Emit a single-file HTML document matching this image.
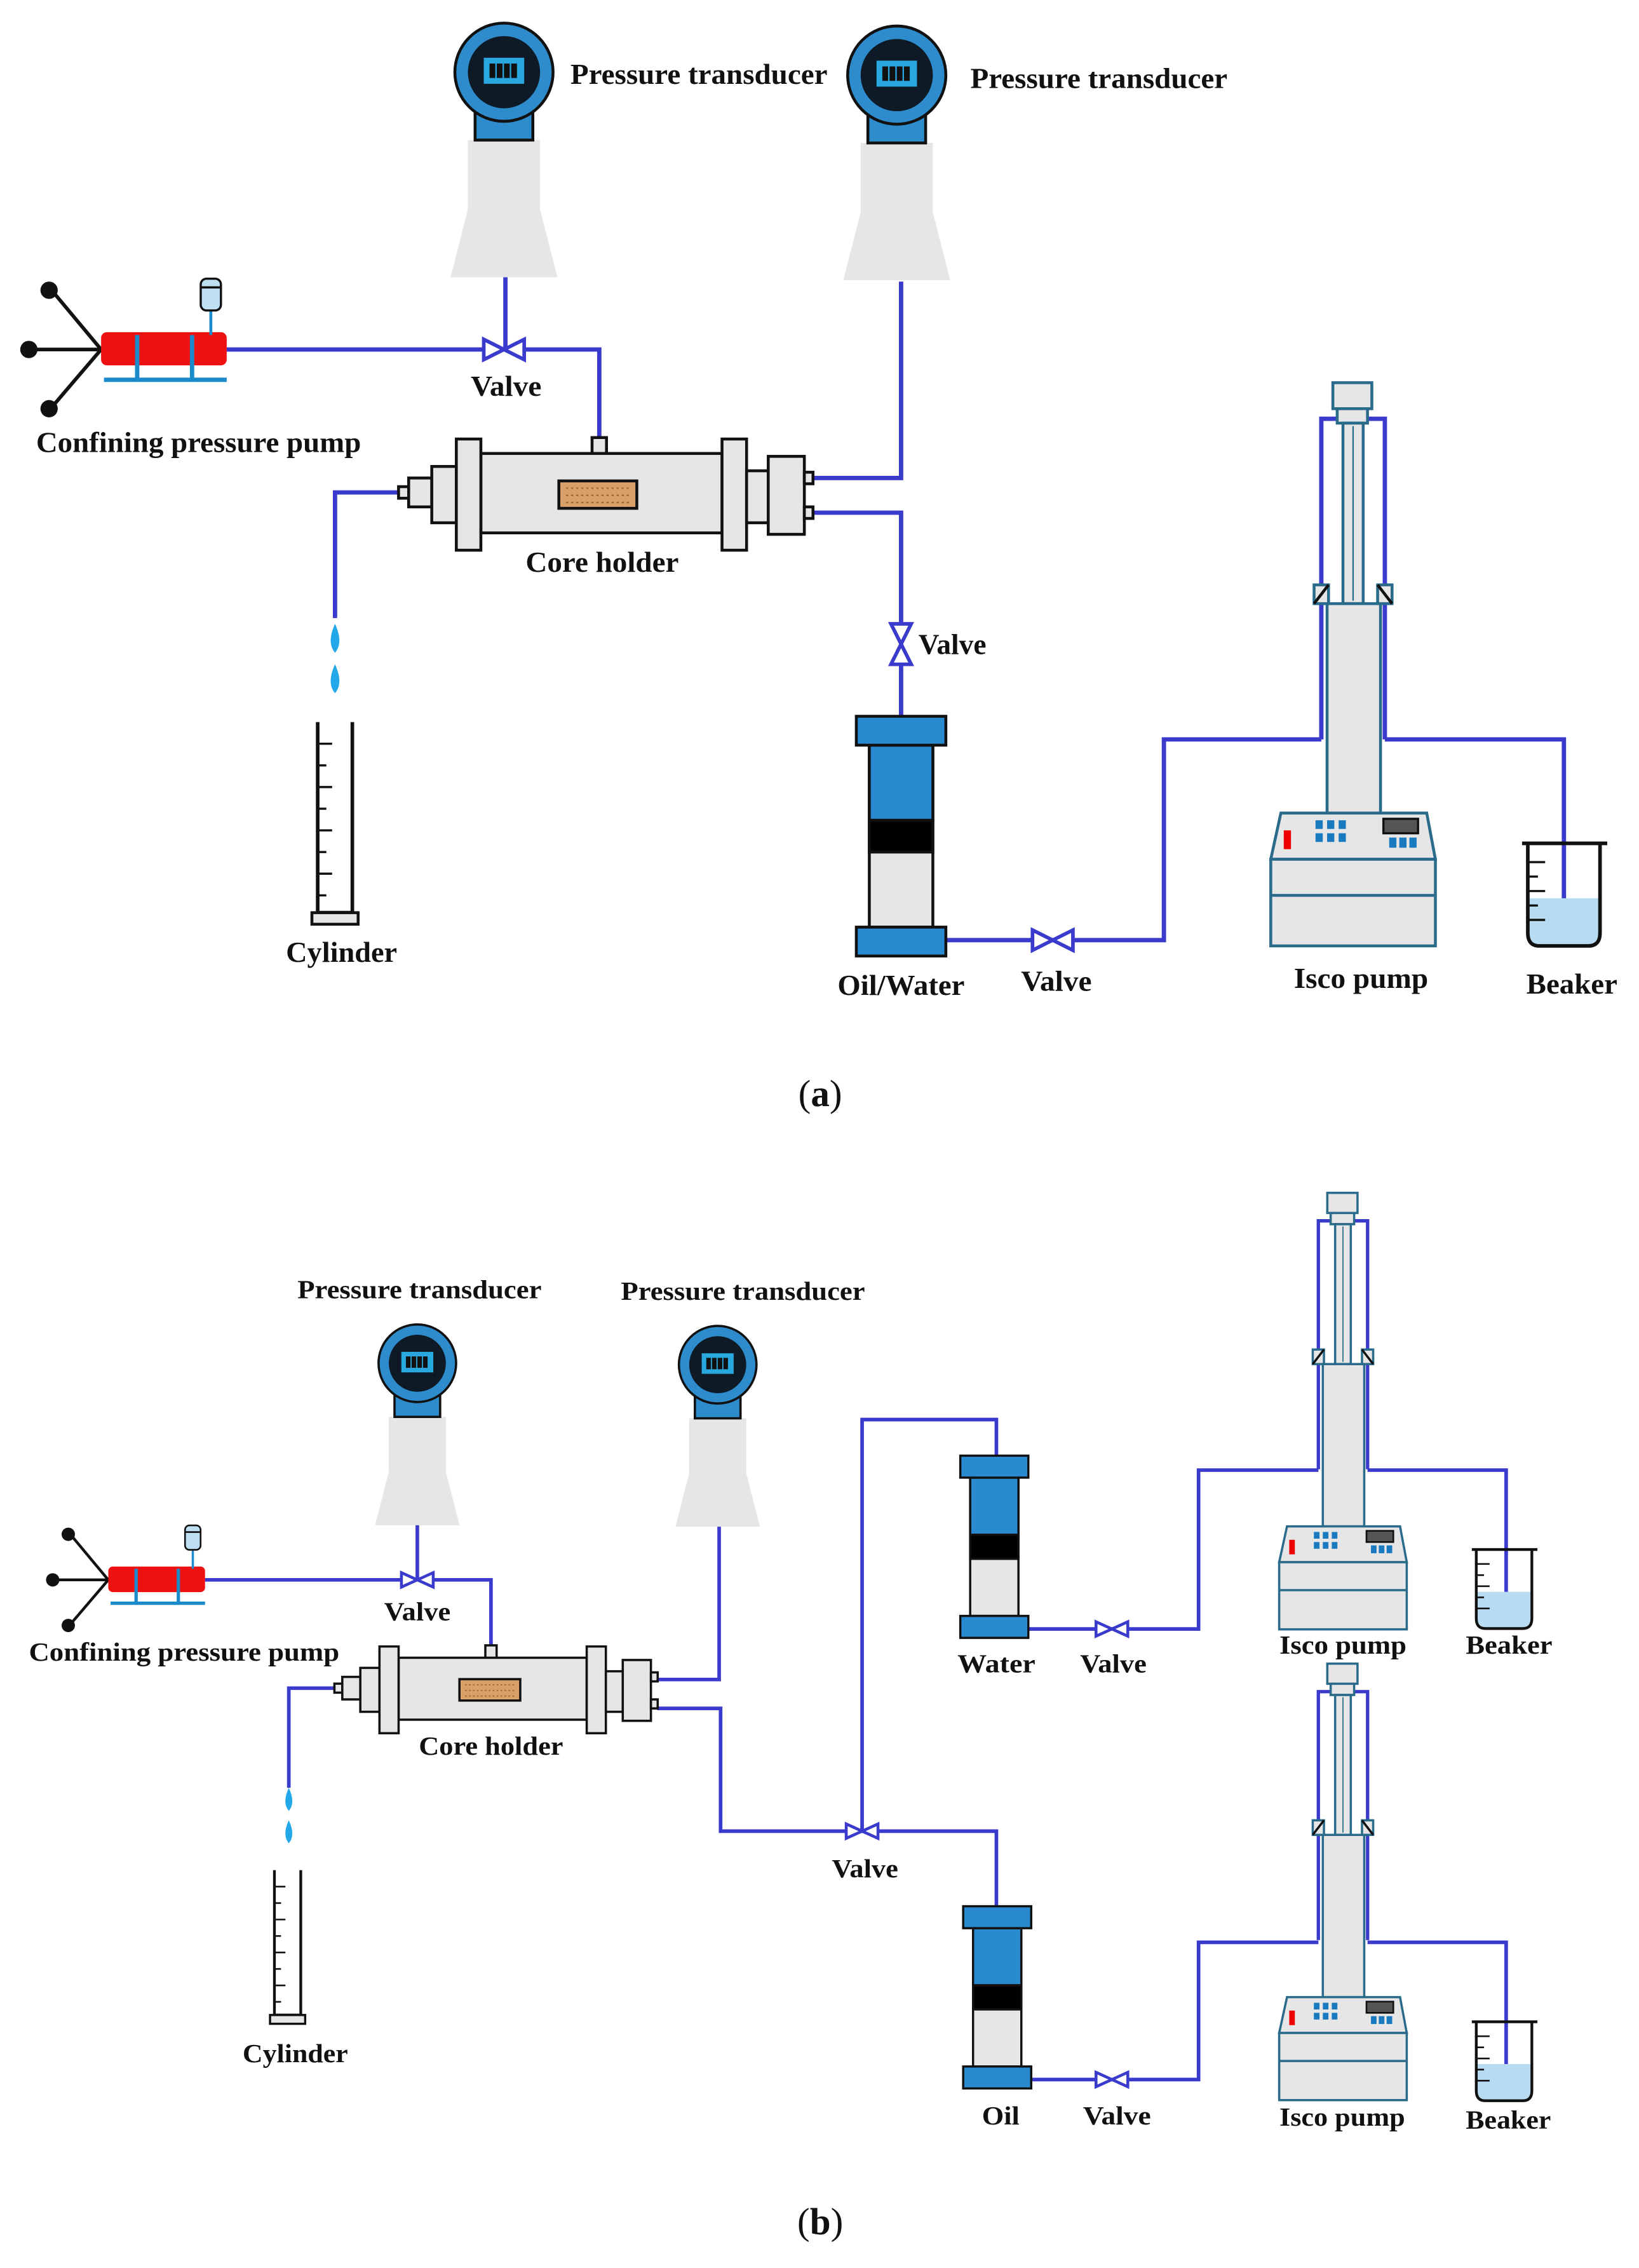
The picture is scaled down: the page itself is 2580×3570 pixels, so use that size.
<!DOCTYPE html>
<html><head><meta charset="utf-8"><style>
html,body{margin:0;padding:0;background:#fff}
svg{display:block}
text{font-family:"Liberation Serif",serif;font-weight:bold;fill:#111}
</style></head><body>
<svg width="2580" height="3570" viewBox="0 0 1135 1570.5" preserveAspectRatio="none" xmlns="http://www.w3.org/2000/svg">
<defs>
 <g id="trans">
  <path d="M-25,47 H25 V95 L37,142 H-37 L-25,95 Z" fill="#e6e6e6"/>
  <rect x="-20" y="26" width="40" height="21" fill="#2e8ccc" stroke="#111" stroke-width="2"/>
  <circle r="34" fill="#2e8ccc" stroke="#111" stroke-width="2"/>
  <circle r="25" fill="#0e1a26"/>
  <rect x="-14" y="-10" width="28" height="18" fill="#29a8e0"/>
  <g fill="#111"><rect x="-10" y="-6" width="4" height="10"/><rect x="-5" y="-6" width="4" height="10"/><rect x="0" y="-6" width="4" height="10"/><rect x="5" y="-6" width="4" height="10"/></g>
 </g>
 <g id="cpump">
  <g stroke="#111" stroke-width="2.5"><line x1="70" y1="242" x2="35" y2="200"/><line x1="70" y1="242" x2="20" y2="242"/><line x1="70" y1="242" x2="35" y2="283"/></g>
  <g fill="#111"><circle cx="34" cy="201" r="6"/><circle cx="20" cy="242" r="6"/><circle cx="34" cy="283" r="6"/></g>
  <rect x="70" y="230" width="87" height="23" rx="4" fill="#ee1111"/>
  <line x1="72" y1="263" x2="157" y2="263" stroke="#1a8acb" stroke-width="3"/>
  <line x1="95" y1="232" x2="95" y2="263" stroke="#1a8acb" stroke-width="3"/>
  <line x1="133" y1="232" x2="133" y2="263" stroke="#1a8acb" stroke-width="3"/>
  <line x1="146" y1="215" x2="146" y2="232" stroke="#1a8acb" stroke-width="2"/>
  <rect x="139" y="193" width="14" height="22" rx="4" fill="#bfe0f3" stroke="#111" stroke-width="1.5"/>
  <line x1="139" y1="199" x2="153" y2="199" stroke="#111" stroke-width="1.5"/>
 </g>
 <g id="core" stroke="#111" stroke-width="2" fill="#e6e6e6">
  <rect x="410" y="303" width="10" height="12"/>
  <rect x="276" y="337" width="7" height="8"/>
  <rect x="283" y="331" width="16" height="20"/>
  <rect x="299" y="323" width="17" height="39"/>
  <rect x="333" y="314" width="167" height="55"/>
  <rect x="316" y="304" width="17" height="77"/>
  <rect x="500" y="304" width="17" height="77"/>
  <rect x="517" y="326" width="15" height="36"/>
  <rect x="532" y="316" width="25" height="54"/>
  <rect x="557" y="327" width="6" height="8"/>
  <rect x="557" y="351" width="6" height="8"/>
  <rect x="387" y="333" width="54" height="19" fill="#d9a06a"/>
  <g stroke="#9a6a3a" stroke-width="1" stroke-dasharray="1.5 2"><line x1="392" y1="338" x2="437" y2="338"/><line x1="392" y1="343" x2="437" y2="343"/><line x1="392" y1="348" x2="437" y2="348"/></g>
 </g>
 <g id="piston" stroke="#111" stroke-width="2">
  <rect x="602" y="516" width="44" height="126" fill="#e6e6e6"/>
  <rect x="602" y="516" width="44" height="52" fill="#2a8ad0"/>
  <rect x="602" y="568" width="44" height="22" fill="#000"/>
  <rect x="593" y="496" width="62" height="20" fill="#2a8ad0"/>
  <rect x="593" y="642" width="62" height="20" fill="#2a8ad0"/>
 </g>
 <g id="isco">
  <g fill="none" stroke="#3a3acc" stroke-width="3"><path d="M915,512 V290 H926"/><path d="M959,512 V290 H947"/></g>
  <g fill="#e6e6e6" stroke="#2a6a8a" stroke-width="2">
   <rect x="923" y="265" width="27" height="18"/>
   <rect x="926" y="283" width="21" height="10"/>
   <rect x="930" y="293" width="14" height="125"/>
   <rect x="919" y="418" width="37" height="145"/>
   <rect x="910" y="405" width="10" height="13"/>
   <rect x="954" y="405" width="10" height="13"/>
   <path d="M887,563 H988 L994,595 H880 Z"/>
   <rect x="880" y="595" width="114" height="60"/>
   <line x1="880" y1="620" x2="994" y2="620"/>
  </g>
  <line x1="937" y1="295" x2="937" y2="416" stroke="#2a6a8a" stroke-width="1"/>
  <line x1="910" y1="418" x2="920" y2="405" stroke="#111" stroke-width="2"/>
  <line x1="954" y1="405" x2="964" y2="418" stroke="#111" stroke-width="2"/>
  <rect x="889" y="575" width="5" height="13" fill="#e00"/>
  <g fill="#1a7ac0"><rect x="911" y="568" width="5" height="6"/><rect x="919" y="568" width="5" height="6"/><rect x="927" y="568" width="5" height="6"/><rect x="911" y="577" width="5" height="6"/><rect x="919" y="577" width="5" height="6"/><rect x="927" y="577" width="5" height="6"/><rect x="962" y="580" width="5" height="7"/><rect x="969" y="580" width="5" height="7"/><rect x="976" y="580" width="5" height="7"/></g>
  <rect x="958" y="567" width="24" height="10" fill="#555" stroke="#111" stroke-width="1.5"/>
 </g>
 <g id="beaker">
  <path d="M1058,622 H1108 V646 Q1108,655 1100,655 H1066 Q1058,655 1058,646 Z" fill="#b7dcf2"/>
  <path d="M1054,584 H1113 M1058,584 V646 Q1058,655 1066,655 H1100 Q1108,655 1108,646 V584" fill="none" stroke="#111" stroke-width="2.5"/>
  <g stroke="#111" stroke-width="1.5"><line x1="1058" y1="597" x2="1070" y2="597"/><line x1="1058" y1="607" x2="1065" y2="607"/><line x1="1058" y1="617" x2="1070" y2="617"/><line x1="1058" y1="627" x2="1065" y2="627"/><line x1="1058" y1="637" x2="1070" y2="637"/></g>
 </g>
 <g id="gcyl">
  <path d="M220,500 V632 H244 V500" fill="#fff" stroke="#111" stroke-width="2.5"/>
  <rect x="216" y="632" width="32" height="8" fill="#e6e6e6" stroke="#111" stroke-width="2"/>
  <g stroke="#111" stroke-width="1.5"><line x1="220" y1="515" x2="230" y2="515"/><line x1="220" y1="530" x2="226" y2="530"/><line x1="220" y1="545" x2="230" y2="545"/><line x1="220" y1="560" x2="226" y2="560"/><line x1="220" y1="575" x2="230" y2="575"/><line x1="220" y1="590" x2="226" y2="590"/><line x1="220" y1="605" x2="230" y2="605"/><line x1="220" y1="620" x2="226" y2="620"/></g>
 </g>
 <g id="drops" fill="#22a8e8"><path d="M232,432 Q238,445 232,452 Q226,445 232,432Z"/><path d="M232,460 Q238,473 232,480 Q226,473 232,460Z"/></g>
</defs>

<!-- ===== (a) ===== -->
<g fill="none" stroke="#3a3acc" stroke-width="3">
 <path d="M157,242 H415 V305"/>
 <path d="M350,192 V242"/>
 <path d="M276,341 H232 V428"/>
 <path d="M563,331 H624 V195"/>
 <path d="M563,355 H624 V496"/>
 <path d="M655,651 H806 V512 H915"/>
 <path d="M959,512 H1083 V635"/>
</g>
<use href="#trans" transform="translate(349,50)"/>
<use href="#trans" transform="translate(621,52)"/>
<use href="#cpump"/>
<use href="#core"/>
<use href="#piston"/>
<use href="#isco"/>
<use href="#beaker"/>
<use href="#gcyl"/>
<use href="#drops"/>
<g fill="#fff" stroke="#3a3acc" stroke-width="2.5">
 <path d="M335,235 L363,249 V235 L335,249 Z"/>
 <path d="M715,644 L743,658 V644 L715,658 Z"/>
 <path d="M617,432 L631,460 H617 L631,432 Z"/>
</g>
<g font-size="20">
 <text x="395" y="58" textLength="178" lengthAdjust="spacingAndGlyphs">Pressure transducer</text>
 <text x="672" y="61" textLength="178" lengthAdjust="spacingAndGlyphs">Pressure transducer</text>
 <text x="326" y="274" textLength="49" lengthAdjust="spacingAndGlyphs">Valve</text>
 <text x="25" y="313" textLength="225" lengthAdjust="spacingAndGlyphs">Confining pressure pump</text>
 <text x="364" y="396" textLength="106" lengthAdjust="spacingAndGlyphs">Core holder</text>
 <text x="636" y="453" textLength="47" lengthAdjust="spacingAndGlyphs">Valve</text>
 <text x="198" y="666" textLength="77" lengthAdjust="spacingAndGlyphs">Cylinder</text>
 <text x="580" y="689" textLength="88" lengthAdjust="spacingAndGlyphs">Oil/Water</text>
 <text x="707" y="686" textLength="49" lengthAdjust="spacingAndGlyphs">Valve</text>
 <text x="896" y="684" textLength="93" lengthAdjust="spacingAndGlyphs">Isco pump</text>
 <text x="1057" y="688" textLength="63" lengthAdjust="spacingAndGlyphs">Beaker</text>
</g>
<text x="568" y="766" font-size="26" text-anchor="middle" style="font-weight:normal">(<tspan style="font-weight:bold">a</tspan>)</text>

<!-- ===== (b) ===== -->
<g fill="none" stroke="#3a3acc" stroke-width="2.5">
 <path d="M142,1094 H340 V1142"/>
 <path d="M289,1055 V1094"/>
 <path d="M232,1169 H200 V1238"/>
 <path d="M455,1163 H498 V1055"/>
 <path d="M455,1183 H499 V1268 H690 V1320"/>
 <path d="M597,1268 V983 H690 V1008"/>
 <path d="M712,1128 H830 V1018 H913"/>
 <path d="M947,1018 H1043 V1115"/>
 <path d="M714,1440 H830 V1345 H913"/>
 <path d="M947,1345 H1043 V1440"/>
</g>
<use href="#trans" transform="translate(289,944) scale(0.79)"/>
<use href="#trans" transform="translate(497,945) scale(0.79)"/>
<use href="#cpump" transform="translate(75,1094) scale(0.77) translate(-70,-242)"/>
<use href="#core" transform="translate(16.3,903) scale(0.78)"/>
<use href="#piston" transform="translate(665,1008) scale(0.76) translate(-593,-496)"/>
<use href="#piston" transform="translate(667,1320) scale(0.76) translate(-593,-496)"/>
<use href="#isco" transform="translate(930,826) scale(0.775) translate(-937,-265)"/>
<use href="#isco" transform="translate(930,1152) scale(0.775) translate(-937,-265)"/>
<use href="#beaker" transform="translate(1020,1073) scale(0.77) translate(-1055,-584)"/>
<use href="#beaker" transform="translate(1020,1400) scale(0.77) translate(-1055,-584)"/>
<use href="#gcyl" transform="translate(187,1295) scale(0.76) translate(-216,-500)"/>
<use href="#drops" transform="translate(200,1238) scale(0.8) translate(-232,-432)"/>
<g fill="#fff" stroke="#3a3acc" stroke-width="2">
 <path d="M278,1089 L300,1099 V1089 L278,1099 Z"/>
 <path d="M586,1263 L608,1273 V1263 L586,1273 Z"/>
 <path d="M759,1123 L781,1133 V1123 L759,1133 Z"/>
 <path d="M759,1435 L781,1445 V1435 L759,1445 Z"/>
</g>
<g font-size="18">
 <text x="206" y="899" textLength="169" lengthAdjust="spacingAndGlyphs">Pressure transducer</text>
 <text x="430" y="900" textLength="169" lengthAdjust="spacingAndGlyphs">Pressure transducer</text>
 <text x="266" y="1122" textLength="46" lengthAdjust="spacingAndGlyphs">Valve</text>
 <text x="20" y="1150" textLength="215" lengthAdjust="spacingAndGlyphs">Confining pressure pump</text>
 <text x="290" y="1215" textLength="100" lengthAdjust="spacingAndGlyphs">Core holder</text>
 <text x="576" y="1300" textLength="46" lengthAdjust="spacingAndGlyphs">Valve</text>
 <text x="168" y="1428" textLength="73" lengthAdjust="spacingAndGlyphs">Cylinder</text>
 <text x="663" y="1158" textLength="54" lengthAdjust="spacingAndGlyphs">Water</text>
 <text x="748" y="1158" textLength="46" lengthAdjust="spacingAndGlyphs">Valve</text>
 <text x="886" y="1145" textLength="88" lengthAdjust="spacingAndGlyphs">Isco pump</text>
 <text x="1015" y="1145" textLength="60" lengthAdjust="spacingAndGlyphs">Beaker</text>
 <text x="680" y="1471" textLength="26" lengthAdjust="spacingAndGlyphs">Oil</text>
 <text x="750" y="1471" textLength="47" lengthAdjust="spacingAndGlyphs">Valve</text>
 <text x="886" y="1472" textLength="87" lengthAdjust="spacingAndGlyphs">Isco pump</text>
 <text x="1015" y="1474" textLength="59" lengthAdjust="spacingAndGlyphs">Beaker</text>
</g>
<text x="568" y="1547" font-size="26" text-anchor="middle" style="font-weight:normal">(<tspan style="font-weight:bold">b</tspan>)</text>
</svg>
</body></html>
